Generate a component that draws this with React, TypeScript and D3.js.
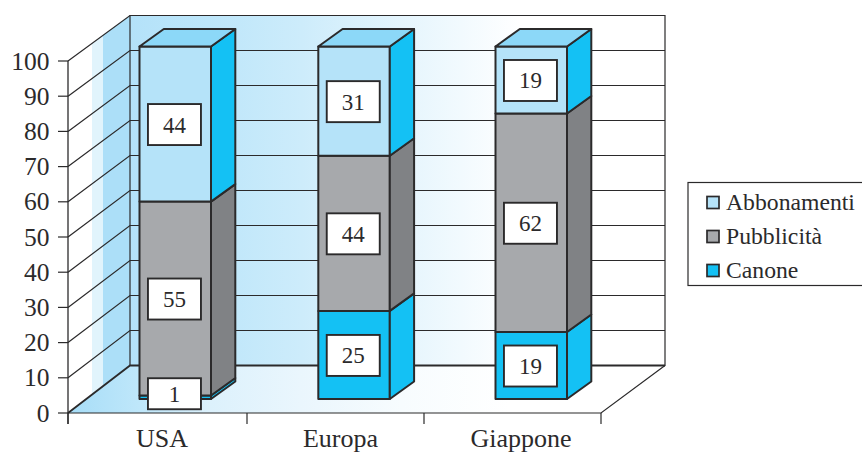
import React from "react";
import * as d3 from "d3";

// Regional revenue mix, in percent
const regions = ["USA", "Europa", "Giappone"];
const canone = [1, 25, 19];
const pubblicita = [55, 44, 62];
const abbonamenti = [44, 31, 19];
const yTicks = [0, 10, 20, 30, 40, 50, 60, 70, 80, 90, 100];
const legendLabels = ["Abbonamenti", "Pubblicità", "Canone"];

const INK = "#2b2a2b";
const FONT = "'Liberation Serif', 'Times New Roman', serif";
const DEPTH_X = 62;

// Value scales for the front edge, the back wall and the column plane
const yFront = d3.scaleLinear().domain([0, 100]).range([413, 61]);
const yBack = d3.scaleLinear().domain([0, 100]).range([365.5, 15.5]);
const yBar = d3.scaleLinear().domain([0, 100]).range([399, 46.5]);

// Category positions by index: column left edges, label centres, axis ticks
const x = d3.scaleLinear().domain([0, 1, 2]).range([139.5, 318.3, 495.5]);
const labelX = d3.scaleLinear().domain([0, 1, 2]).range([162, 340.5, 521]);
const tickX = d3.scaleLinear().domain([0, 1, 2, 3]).range([68, 247, 424, 601]);

const poly = (pts: [number, number][]) => d3.line()(pts) + "Z";
const BAR_WIDTH = 71.5;
const BAR_DX = 24.3;
const BAR_DY = -17.5;

const seriesFill = [
  { key: "canone", values: canone, front: "#14c1f4", side: "#14c1f4" },
  { key: "pubblicita", values: pubblicita, front: "#a7a9ac", side: "#808285" },
  { key: "abbonamenti", values: abbonamenti, front: "#b5e3f9", side: "#14c1f4" },
];

export default function App() {
  const x0 = 68;
  const x1 = 601;
  const bx0 = x0 + DEPTH_X;
  const bx1 = 665;
  const floor = poly([
    [x0, yFront(0)],
    [bx0, yBack(0)],
    [bx1, yBack(0)],
    [x1, yFront(0)],
  ]);
  const back = poly([
    [bx0, yBack(100)],
    [bx1, yBack(100)],
    [bx1, yBack(0)],
    [bx0, yBack(0)],
  ]);
  const side = poly([
    [x0, yFront(100)],
    [bx0, yBack(100)],
    [bx0, yBack(0)],
    [x0, yFront(0)],
  ]);

  return (
    <svg
      width={862}
      height={453}
      style={{ position: "absolute", left: 0, top: 0, background: "#fff" }}
      fontFamily={FONT}
      fill={INK}
    >
      <defs>
        <linearGradient id="wallFade" gradientUnits="userSpaceOnUse" x1={130} x2={520} y1={0} y2={0}>
          <stop offset="0" stopColor="#b4e2f9" />
          <stop offset="0.2" stopColor="#bde6fa" />
          <stop offset="0.44" stopColor="#cdecfb" />
          <stop offset="0.7" stopColor="#e5f5fd" />
          <stop offset="1" stopColor="#ffffff" />
        </linearGradient>
        <linearGradient id="floorFade" gradientUnits="userSpaceOnUse" x1={75} x2={510} y1={0} y2={0}>
          <stop offset="0" stopColor="#a9def8" />
          <stop offset="0.15" stopColor="#bfe7fa" />
          <stop offset="0.31" stopColor="#dcf1fc" />
          <stop offset="0.52" stopColor="#eaf6fd" />
          <stop offset="0.75" stopColor="#f7fcfe" />
          <stop offset="1" stopColor="#ffffff" />
        </linearGradient>
        <clipPath id="sideClip">
          <path d={side} />
        </clipPath>
      </defs>

      {/* Walls and floor */}
      <path d={side} fill="#fff" />
      <g clipPath="url(#sideClip)">
        <rect x={92} y={0} width={11} height={453} fill="#e1f4fc" />
        <rect x={103} y={0} width={27} height={453} fill="#acdff8" />
      </g>
      <path d={back} fill="url(#wallFade)" />
      <path d={floor} fill="url(#floorFade)" />

      {/* Gridlines across the side and back walls */}
      {yTicks.map((t) => (
        <path
          key={t}
          d={
            d3.line()([
              [x0, yFront(t)],
              [bx0, yBack(t)],
              [bx1, yBack(t)],
            ]) as string
          }
          fill="none"
          stroke={INK}
          strokeWidth={t === 0 ? 1.8 : 1.2}
        />
      ))}
      <path d={back} fill="none" stroke={INK} strokeWidth={1.2} />
      <path
        d={
          d3.line()([
            [x0, yFront(0)],
            [x1, yFront(0)],
            [bx1, yBack(0)],
          ]) as string
        }
        fill="none"
        stroke={INK}
        strokeWidth={1.2}
      />

      {/* Stacked columns */}
      {regions.map((region, i) => {
        const left = x(i);
        const right = left + BAR_WIDTH;
        let base = 0;
        const parts = seriesFill.map((s) => {
          const v = s.values[i];
          const part = { ...s, v, start: base, end: base + v };
          base += v;
          return part;
        });
        const yTop = yBar(base);
        return (
          <g key={region} stroke={INK} strokeWidth={2} strokeLinejoin="round">
            {parts.map((p) => {
              const a = yBar(p.start);
              const b = yBar(p.end);
              return (
                <g key={p.key}>
                  <rect x={left} y={b} width={BAR_WIDTH} height={a - b} fill={p.front} />
                  <path
                    d={poly([
                      [right, a],
                      [right + BAR_DX, a + BAR_DY],
                      [right + BAR_DX, b + BAR_DY],
                      [right, b],
                    ])}
                    fill={p.side}
                  />
                </g>
              );
            })}
            <path
              d={poly([
                [left, yTop],
                [left + BAR_DX, yTop + BAR_DY],
                [right + BAR_DX, yTop + BAR_DY],
                [right, yTop],
              ])}
              fill="#8cd8f8"
            />
          </g>
        );
      })}

      {/* Value labels */}
      {regions.map((region, i) => {
        const cx = x(i) + BAR_WIDTH / 2 - 0.8;
        let base = 0;
        return seriesFill.map((s) => {
          const v = s.values[i];
          const mid = yBar(base + v / 2);
          base += v;
          const thin = v < 5;
          const h = thin ? 31 : 41;
          const cy = thin ? mid - 3.5 : mid + 0.5;
          return (
            <g key={region + s.key}>
              <rect
                x={cx - 26.5}
                y={cy - h / 2}
                width={53}
                height={h}
                fill="#fff"
                stroke={INK}
                strokeWidth={1.9}
              />
              <text x={cx} y={cy + 8} textAnchor="middle" fontSize={23} stroke="none">
                {v}
              </text>
            </g>
          );
        });
      })}

      {/* Value axis */}
      <line x1={x0} x2={x0} y1={yFront(100)} y2={424} stroke={INK} strokeWidth={1.3} />
      {yTicks.map((t) => (
        <g key={t}>
          <line x1={58} x2={x0} y1={yFront(t)} y2={yFront(t)} stroke={INK} strokeWidth={1.2} />
          <text x={49.5} y={yFront(t) + 8.5} textAnchor="end" fontSize={25.5}>
            {t}
          </text>
        </g>
      ))}

      {/* Category axis */}
      {d3.range(regions.length + 1).map((k) => (
        <line key={k} x1={tickX(k)} x2={tickX(k)} y1={413} y2={424} stroke={INK} strokeWidth={1.2} />
      ))}
      {regions.map((region, i) => (
        <text key={region} x={labelX(i)} y={447.2} textAnchor="middle" fontSize={26}>
          {region}
        </text>
      ))}

      {/* Legend */}
      <rect x={688} y={182.5} width={175} height={103} fill="#fff" stroke={INK} strokeWidth={1.2} />
      {legendLabels.map((label, i) => {
        const ly = 203 + i * 34;
        const fill = seriesFill[2 - i].front;
        return (
          <g key={label}>
            <rect x={707} y={ly - 6.5} width={12} height={12} fill={fill} stroke={INK} strokeWidth={1.7} />
            <text x={726} y={ly + 7} fontSize={23.7}>
              {label}
            </text>
          </g>
        );
      })}
    </svg>
  );
}
